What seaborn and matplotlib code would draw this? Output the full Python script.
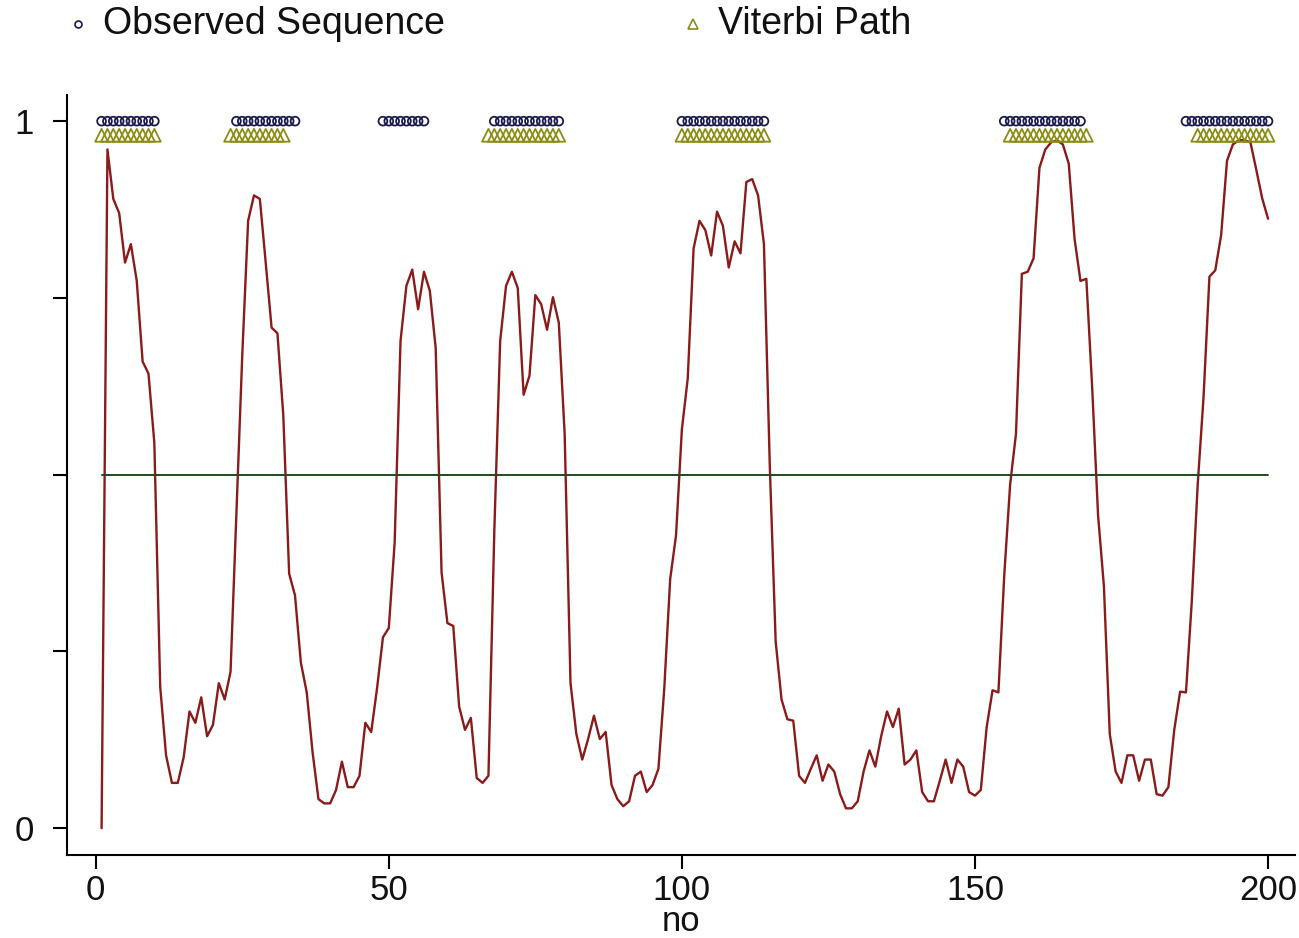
import numpy as np
import pandas as pd
import matplotlib
matplotlib.use("Agg")
import matplotlib.pyplot as plt
from matplotlib.lines import Line2D
import seaborn as sns

# ---- data ----
no = list(range(1, 201))
prob = [
    0.00, 0.96, 0.89, 0.87, 0.80, 0.826, 0.774, 0.66, 0.643, 0.545,
    0.20, 0.103, 0.064, 0.064, 0.10, 0.165, 0.149, 0.185, 0.13, 0.146,
    0.205, 0.182, 0.221, 0.447, 0.669, 0.859, 0.895, 0.89, 0.80, 0.708,
    0.70, 0.584, 0.36, 0.329, 0.234, 0.192, 0.107, 0.041, 0.035, 0.035,
    0.054, 0.094, 0.058, 0.058, 0.074, 0.149, 0.136, 0.198, 0.27, 0.283,
    0.404, 0.689, 0.767, 0.79, 0.734, 0.787, 0.76, 0.679, 0.362, 0.29,
    0.286, 0.172, 0.139, 0.156, 0.071, 0.064, 0.074, 0.42, 0.689, 0.767,
    0.787, 0.764, 0.613, 0.64, 0.754, 0.741, 0.705, 0.751, 0.715, 0.558,
    0.205, 0.133, 0.097, 0.126, 0.159, 0.126, 0.136, 0.061, 0.041, 0.031,
    0.038, 0.074, 0.08, 0.051, 0.061, 0.084, 0.198, 0.352, 0.414, 0.564,
    0.636, 0.82, 0.859, 0.846, 0.81, 0.872, 0.852, 0.793, 0.83, 0.813,
    0.914, 0.918, 0.895, 0.826, 0.512, 0.264, 0.182, 0.154, 0.152, 0.074,
    0.064, 0.084, 0.103, 0.067, 0.09, 0.08, 0.048, 0.028, 0.028, 0.038,
    0.08, 0.11, 0.087, 0.13, 0.165, 0.143, 0.169, 0.09, 0.097, 0.11,
    0.051, 0.038, 0.038, 0.067, 0.097, 0.064, 0.097, 0.087, 0.051, 0.046,
    0.054, 0.143, 0.195, 0.192, 0.358, 0.486, 0.558, 0.784, 0.787, 0.806,
    0.934, 0.96, 0.97, 0.973, 0.967, 0.94, 0.833, 0.774, 0.777, 0.623,
    0.443, 0.342, 0.133, 0.08, 0.064, 0.103, 0.103, 0.067, 0.097, 0.097,
    0.048, 0.046, 0.058, 0.139, 0.193, 0.192, 0.322, 0.486, 0.61, 0.78,
    0.789, 0.839, 0.944, 0.967, 0.973, 0.973, 0.97, 0.931, 0.891, 0.862,
]
# time points where the observed sequence equals 1
observed_x = [
    1, 2, 3, 4, 5, 6, 7, 8, 9, 10,
    24, 25, 26, 27, 28, 29, 30, 31, 32, 33, 34,
    49, 50, 51, 52, 53, 54, 55, 56,
    68, 69, 70, 71, 72, 73, 74, 75, 76, 77, 78, 79,
    100, 101, 102, 103, 104, 105, 106, 107, 108, 109, 110, 111, 112, 113, 114,
    155, 156, 157, 158, 159, 160, 161, 162, 163, 164, 165, 166, 167, 168,
    186, 187, 188, 189, 190, 191, 192, 193, 194, 195, 196, 197, 198, 199, 200,
]
# time points where the Viterbi path is in state 1
viterbi_x = [
    1, 2, 3, 4, 5, 6, 7, 8, 9, 10,
    23, 24, 25, 26, 27, 28, 29, 30, 31, 32,
    67, 68, 69, 70, 71, 72, 73, 74, 75, 76, 77, 78, 79,
    100, 101, 102, 103, 104, 105, 106, 107, 108, 109, 110, 111, 112, 113, 114,
    156, 157, 158, 159, 160, 161, 162, 163, 164, 165, 166, 167, 168, 169,
    188, 189, 190, 191, 192, 193, 194, 195, 196, 197, 198, 199, 200,
]
obs_level = 1.0
vit_level = 0.98
threshold = 0.5
x_ticks = [0, 50, 100, 150, 200]
y_ticks = [0, 0.25, 0.5, 0.75, 1]
y_ticklabels = ["0", "", "", "", "1"]
legend_labels = ["Observed Sequence", "Viterbi Path"]
x_label = "no"

# ---- style ----
sns.set_theme(style="white")
plt.rcParams["font.family"] = ["Liberation Sans", "DejaVu Sans"]

RED = "#8b1a1a"
GREEN = "#1f4a1f"
NAVY = "#1a1a50"
OLIVE = "#8c8c14"
TXT = "#111111"

W, H = 1299, 938
fig = plt.figure(figsize=(W / 100, H / 100), dpi=100)
ax = fig.add_axes([67 / W, 1 - 855 / H, (1295 - 67) / W, (855 - 95) / H])

df = pd.DataFrame({"no": no, "prob": prob})
sns.lineplot(data=df, x="no", y="prob", ax=ax, color=RED, lw=1.7,
             estimator=None, sort=False)

# threshold line
thr = pd.DataFrame({"no": [no[0], no[-1]], "v": [threshold, threshold]})
sns.lineplot(data=thr, x="no", y="v", ax=ax, color=GREEN, lw=1.4,
             estimator=None)

vdf = pd.DataFrame({"no": viterbi_x, "y": [vit_level] * len(viterbi_x)})
sns.scatterplot(data=vdf, x="no", y="y", ax=ax, marker="^", s=85,
                facecolors="none", edgecolor=OLIVE, linewidth=1.3, zorder=4)
odf = pd.DataFrame({"no": observed_x, "y": [obs_level] * len(observed_x)})
sns.scatterplot(data=odf, x="no", y="y", ax=ax, marker="o", s=40,
                facecolors="none", edgecolor=NAVY, linewidth=1.3, zorder=5)

ax.set_xlim(-4.9, 204.6)
ax.set_ylim(-0.038, 1.037)
ax.set_xticks(x_ticks)
ax.set_xticklabels([str(t) for t in x_ticks])
ax.set_yticks(y_ticks)
ax.set_yticklabels(y_ticklabels)
ax.set_xlabel("")
ax.set_ylabel("")
ax.tick_params(axis="both", which="both", direction="out", length=10,
               width=1.5, color="black", labelsize=25, labelcolor=TXT,
               left=True, bottom=True)
ax.tick_params(axis="x", pad=4)
ax.tick_params(axis="y", pad=14)
for s in ["top", "right"]:
    ax.spines[s].set_visible(False)
for s in ["left", "bottom"]:
    ax.spines[s].set_color("black")
    ax.spines[s].set_linewidth(1.5)
ax.grid(False)

# axis title below tick labels
fig.text(681 / W, 1 - 931 / H, x_label, fontsize=25, ha="center",
         va="baseline", color=TXT)

# legend across the top
ly = 1 - 24 / H
fig.add_artist(Line2D([78 / W], [ly], transform=fig.transFigure, marker="o",
                      markersize=5, markerfacecolor="none",
                      markeredgecolor=NAVY, markeredgewidth=1.2, linestyle=""))
fig.text(103 / W, ly, legend_labels[0], fontsize=27, va="center", ha="left",
         color=TXT)
fig.add_artist(Line2D([693 / W], [ly], transform=fig.transFigure, marker="^",
                      markersize=7, markerfacecolor="none",
                      markeredgecolor=OLIVE, markeredgewidth=1.2, linestyle=""))
fig.text(718 / W, ly, legend_labels[1], fontsize=27, va="center", ha="left",
         color=TXT)

fig.savefig("out.png", dpi=100)
